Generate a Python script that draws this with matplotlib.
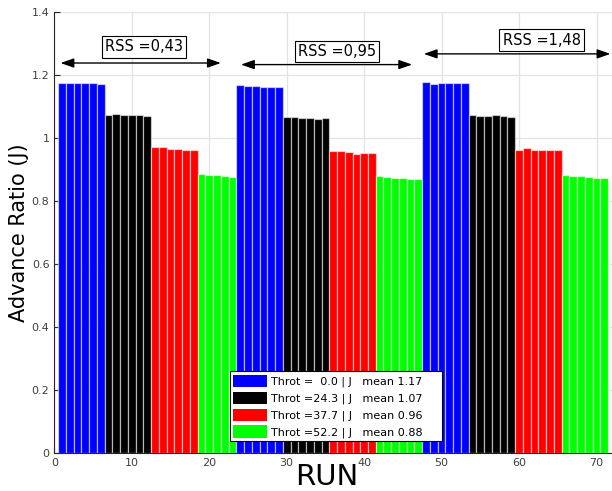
import numpy as np
import matplotlib.pyplot as plt
from matplotlib.patches import Patch

# advance ratio per run, one list per throttle setting and RSS block
thr_00 = [[1.173, 1.176, 1.174, 1.174, 1.174, 1.171],
          [1.167, 1.165, 1.165, 1.162, 1.163, 1.162],
          [1.178, 1.172, 1.173, 1.173, 1.175, 1.176]]
thr_243 = [[1.074, 1.077, 1.073, 1.073, 1.072, 1.070],
           [1.068, 1.066, 1.064, 1.064, 1.060, 1.064],
           [1.073, 1.069, 1.071, 1.073, 1.071, 1.066]]
thr_377 = [[0.970, 0.970, 0.966, 0.964, 0.961, 0.963],
           [0.960, 0.960, 0.957, 0.948, 0.952, 0.952],
           [0.963, 0.968, 0.963, 0.961, 0.963, 0.961]]
thr_522 = [[0.887, 0.883, 0.881, 0.878, 0.877],
           [0.878, 0.877, 0.874, 0.874, 0.871, 0.871],
           [0.881, 0.880, 0.878, 0.877, 0.874, 0.874]]

throttles = [0.0, 24.3, 37.7, 52.2]
colors = ['#0000ff', '#000000', '#ff0000', '#00ff00']
rss_labels = ['RSS =0,43', 'RSS =0,95', 'RSS =1,48']
# arrow extent (run numbers), arrow height, label position
rss_span = [(0.8, 21.5, 1.238), (24.1, 46.2, 1.233), (47.7, 71.8, 1.267)]
rss_text = [(11.6, 1.289), (36.5, 1.275), (62.9, 1.311)]

series = [thr_00, thr_243, thr_377, thr_522]

fig = plt.figure(figsize=(6.12, 4.91), dpi=100)
ax = fig.add_axes([0.0887, 0.0774, 0.9113, 0.8982])

run = 1
all_vals = {c: [] for c in colors}
for block in range(3):
    for k, c in enumerate(colors):
        vals = series[k][block]
        x = np.arange(run, run + len(vals))
        ax.bar(x, vals, width=1.0, color=c, edgecolor=(1, 1, 1, 0.55),
               linewidth=0.9, zorder=2)
        all_vals[c].extend(vals)
        run += len(vals)

for (x0, x1, y), (tx, ty), lab in zip(rss_span, rss_text, rss_labels):
    ax.annotate('', xy=(x1, y), xytext=(x0, y),
                arrowprops=dict(arrowstyle='<|-|>,head_length=0.8,head_width=0.28',
                                color='black', lw=1.0, shrinkA=0, shrinkB=0),
                zorder=3, annotation_clip=False)
    ax.text(tx, ty, lab, fontsize=10.5, ha='center', va='center', zorder=4,
            bbox=dict(boxstyle='square,pad=0.22', fc='white', ec='black', lw=0.8))

handles = [Patch(facecolor=c, edgecolor='none') for c in colors]
labels = ['Throt =%s | J   mean %.2f' % (('  %.1f' % t) if t < 10 else '%.1f' % t,
                                         np.mean(all_vals[c]))
          for t, c in zip(throttles, colors)]
leg = ax.legend(handles, labels, loc='lower left',
                bbox_to_anchor=(0.315, 0.027, 0.38, 0.16), mode='expand',
                borderaxespad=0, fontsize=8, handlelength=3.0, handleheight=1.3,
                handletextpad=0.4, labelspacing=0.42, borderpad=0.3,
                fancybox=False, framealpha=1, edgecolor='black')
leg.get_frame().set_linewidth(0.8)

ax.set_xlim(0, 72)
ax.set_ylim(0, 1.4)
ax.set_xticks(np.arange(0, 71, 10))
ax.set_yticks(np.arange(0, 1.41, 0.2))
ax.set_yticklabels(['0', '0.2', '0.4', '0.6', '0.8', '1', '1.2', '1.4'])
ax.tick_params(direction='in', length=4, labelsize=8, colors='#262626',
               labelcolor='#404040', top=False, right=False)
ax.grid(True, color='#e3e3e3', lw=0.9)
ax.set_axisbelow(True)
for s in ['top', 'right']:
    ax.spines[s].set_visible(False)
for s in ['left', 'bottom']:
    ax.spines[s].set_color('#262626')

ax.set_xlabel('RUN', fontsize=21)
ax.set_ylabel('Advance Ratio (J)', fontsize=15)
ax.xaxis.set_label_coords(0.488, -0.022)
ax.yaxis.set_label_coords(-0.046, 0.5)

fig.savefig('out.png', dpi=100)
